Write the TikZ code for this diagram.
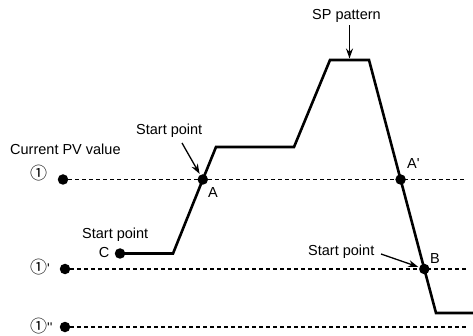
\documentclass[tikz,border=0pt]{standalone}
\usepackage{fontspec}
\setmainfont{Liberation Sans}
\newfontfamily\circfont{Noto Sans CJK JP}
\newcommand\lvlmark[1]{{\circfont\fontsize{17}{17}\selectfont ①}{\fontsize{14}{14}\selectfont #1}}
\usetikzlibrary{arrows.meta,calc}

\begin{document}
\begin{tikzpicture}[
  x=1pt, y=-1pt,
  font=\fontsize{14.5}{17}\selectfont,
  dot/.style={circle, fill, inner sep=0pt, minimum size=10.5pt},
  lbl/.style={inner sep=0pt},
  lvlname/.style={inner sep=0pt, anchor=west},
  lvl/.style={dash pattern=on 4pt off 3pt, line width=1.1pt},
  sp/.style={line width=2.6pt, line join=miter},
  arr/.style={-{Stealth[length=10pt, width=7pt]}, line width=1.3pt}
]
\useasboundingbox (0,0) rectangle (473,336);
% PV levels
\node[lbl, anchor=base west] (pv) at (10,155) {Current PV value};
\node[lvlname] (n1) at (30,173.5) {\lvlmark{}};
\node[lvlname] (n2) at (30,267.5) {\lvlmark{\textquotesingle}};
\node[lvlname] (n3) at (30,326) {\lvlmark{\textquotesingle\textquotesingle}};
\node[dot] (l1) at (63,179.5) {};
\node[dot] (l2) at (65,269) {};
\node[dot] (l3) at (65,327) {};
\coordinate (r1) at (465,179.5);
\coordinate (r2) at (468,269);
\coordinate (r3) at (468,327);
\draw[lvl] (l1) -- (r1);
\draw[lvl] (l2) -- (r2);
\draw[lvl] (l3) -- (r3);
% SP pattern
\node[dot] (C) at (120,253.5) {};
\coordinate (k1) at (173,253.5);
\node[dot] (A) at (202.8,179.5) {};
\coordinate (k2) at (216,147);
\coordinate (k3) at (294,147);
\coordinate (k4) at (330,60);
\coordinate (k5) at (369,60);
\node[dot] (A2) at (400.6,179.5) {};
\node[dot] (B) at (424.3,269) {};
\coordinate (k6) at (436,313);
\coordinate (k7) at (473,313);
\draw[sp] (C.center) -- (k1) -- (A.center) -- (k2) -- (k3) -- (k4) -- (k5)
  -- (A2.center) -- (B.center) -- (k6) -- (k7);
% labels
\node[lbl, anchor=base west] (sp) at (312,20) {SP pattern};
\node[lbl, anchor=base west] (stA) at (136,135) {Start point};
\node[lbl, anchor=base west] (stC) at (82,239) {Start point};
\node[lbl, anchor=base west] (stB) at (308,255) {Start point};
\node[lbl, anchor=base] (cC) at (104,258) {C};
\node[lbl, anchor=base] (cA) at (213,198) {A};
\node[lbl, anchor=base west] (cA2) at (407,169) {A\textquotesingle};
\node[lbl, anchor=base] (cB) at (435,263) {B};
% arrows
\coordinate (top) at (349.5,58.5);
\coordinate (tA) at (182,143);
\coordinate (tB) at (381,254);
\draw[arr, shorten <=2pt] (sp.south -| top) -- (top);
\draw[arr, shorten >=1pt] (tA) -- (A);
\draw[arr, shorten >=1pt] (tB) -- (B);
\end{tikzpicture}
\end{document}
